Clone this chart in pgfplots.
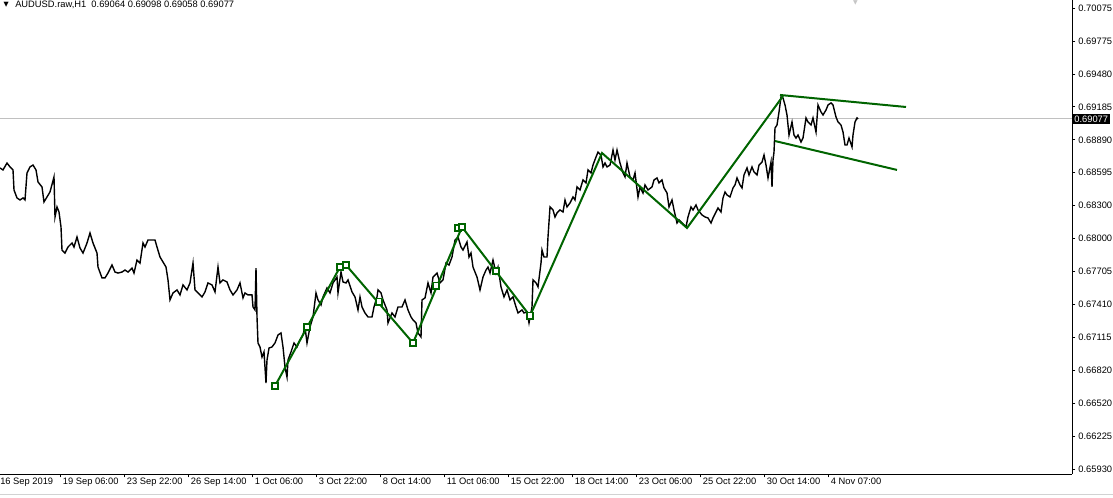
\documentclass[border=0pt]{standalone}
\usepackage{fontspec}
\setmainfont{Liberation Sans}
\newfontfamily\symfont{DejaVu Sans}
\usepackage{pgfplots}
\pgfplotsset{compat=1.18}
\definecolor{zz}{RGB}{0,100,0}
\definecolor{bid}{RGB}{192,192,192}
\newcommand\lbl{\fontsize{7}{8}\selectfont}

\begin{document}
\begin{tikzpicture}
\path[use as bounding box] (0,-17.25pt) rectangle (834.75pt,355.5pt);
\draw[gray!35, line width=0.75pt] (0,-15pt) -- (834.75pt,-15pt);
\begin{axis}[
  at={(0,0)}, anchor=south west,
  scale only axis, width=804pt, height=355.5pt,
  xmin=0, xmax=1072, ymin=0.65885, ymax=0.70147,
  axis x line*=bottom, axis y line*=right,
  axis line style={-, black, line width=0.75pt},
  clip=false,
  tick align=outside, major tick length=2.6pt,
  tick style={black, line width=0.75pt},
  xtick={60,124,188,252,316,380,444,508,572,636,700,764,828},
  xticklabels={19 Sep 06:00, 23 Sep 22:00, 26 Sep 14:00, 1 Oct 06:00, 3 Oct 22:00, 8 Oct 14:00, 11 Oct 06:00, 15 Oct 22:00, 18 Oct 14:00, 23 Oct 06:00, 25 Oct 22:00, 30 Oct 14:00, 4 Nov 07:00},
  xticklabel style={font=\lbl, anchor=north west, inner sep=0pt, xshift=2pt},
  ytick={0.70075,0.69775,0.69480,0.69185,0.68890,0.68595,0.68300,0.68000,0.67705,0.67410,0.67115,0.66820,0.66520,0.66225,0.65930},
  yticklabels={0.70075,0.69775,0.69480,0.69185,0.68890,0.68595,0.68300,0.68000,0.67705,0.67410,0.67115,0.66820,0.66520,0.66225,0.65930},
  yticklabel style={font=\lbl, anchor=west, inner sep=0pt, xshift=2pt},
  scaled y ticks=false,
]
% bid line
\addplot[bid, line width=0.75pt] coordinates {(0,0.69077) (1072,0.69077)};

% AUDUSD H1 close path, traced
\addplot[black, line width=1.05pt] coordinates {
(0,0.68637)(3,0.68619)(7,0.68681)(10,0.68646)(13,0.68619)(14,0.68439)(17,0.68367)(20,0.68349)(23,0.68367)(25,0.68349)
(27,0.68592)(30,0.68646)(33,0.68663)(36,0.68619)(38,0.68511)(42,0.68466)(44,0.68331)(47,0.68376)(50,0.68421)(54,0.68556)
(55,0.68196)(57,0.68286)(59,0.68241)(61,0.68106)(62,0.67899)(65,0.67872)(68,0.67926)(72,0.67962)(74,0.67926)(77,0.68016)
(80,0.67917)(83,0.67872)(87,0.67962)(90,0.68052)(93,0.67962)(97,0.67872)(98,0.67746)(102,0.67648)(105,0.67648)(108,0.67692)
(112,0.67764)(115,0.67701)(118,0.67692)(122,0.67701)(125,0.67719)(128,0.67701)(132,0.67737)(134,0.67692)(137,0.67809)(140,0.67782)
(143,0.67962)(145,0.67926)(148,0.67989)(152,0.67989)(155,0.67989)(157,0.67926)(160,0.67836)(163,0.67791)(166,0.67746)(168,0.67630)
(170,0.67450)(173,0.67513)(177,0.67540)(180,0.67495)(183,0.67585)(187,0.67540)(190,0.67603)(193,0.67782)(195,0.67540)(198,0.67513)
(202,0.67477)(205,0.67522)(208,0.67603)(212,0.67585)(215,0.67522)(218,0.67746)(220,0.67603)(223,0.67630)(227,0.67612)(230,0.67540)
(233,0.67495)(237,0.67540)(240,0.67603)(243,0.67468)(245,0.67513)(248,0.67495)(252,0.67495)(253,0.67387)(255,0.67360)(256,0.67737)
(257,0.67297)(258,0.67063)(260,0.67027)(262,0.66937)(264,0.66982)(266,0.66703)(267,0.66910)(269,0.67018)(272,0.67027)(275,0.67063)
(278,0.67135)(281,0.67153)(283,0.67027)(285,0.66847)(287,0.66757)(288,0.66910)(291,0.66982)(294,0.67063)(297,0.67027)(300,0.67090)
(303,0.67135)(305,0.67207)(307,0.67063)(310,0.67207)(313,0.67297)(316,0.67513)(318,0.67450)(321,0.67405)(323,0.67477)(327,0.67558)
(330,0.67513)(333,0.67603)(337,0.67656)(338,0.67513)(341,0.67701)(343,0.67612)(346,0.67603)(348,0.67630)(352,0.67522)(355,0.67477)
(358,0.67360)(360,0.67477)(362,0.67387)(365,0.67333)(368,0.67297)(372,0.67297)(374,0.67387)(377,0.67477)(378,0.67540)(381,0.67513)
(383,0.67450)(387,0.67360)(388,0.67243)(392,0.67333)(395,0.67297)(398,0.67387)(402,0.67387)(405,0.67450)(408,0.67360)(411,0.67297)
(413,0.67270)(416,0.67243)(418,0.67153)(421,0.67117)(422,0.67450)(425,0.67468)(428,0.67603)(431,0.67513)(433,0.67656)(437,0.67692)
(440,0.67603)(443,0.67630)(446,0.67782)(449,0.67764)(452,0.67836)(455,0.67989)(458,0.68016)(461,0.67926)(463,0.67899)(467,0.67971)
(469,0.67836)(471,0.67872)(473,0.67746)(477,0.67656)(480,0.67540)(483,0.67656)(486,0.67719)(488,0.67746)(490,0.67692)(493,0.67809)
(496,0.67692)(498,0.67746)(501,0.67567)(504,0.67477)(507,0.67540)(510,0.67450)(513,0.67477)(516,0.67387)(518,0.67333)(522,0.67360)
(524,0.67333)(527,0.67342)(529,0.67243)(532,0.67387)(533,0.67630)(536,0.67603)(538,0.67567)(541,0.67782)(542,0.67899)(544,0.67836)
(547,0.67836)(548,0.68016)(550,0.68286)(553,0.68259)(555,0.68196)(557,0.68232)(560,0.68259)(563,0.68241)(565,0.68349)(567,0.68286)
(570,0.68322)(573,0.68376)(575,0.68349)(577,0.68466)(580,0.68439)(583,0.68529)(586,0.68502)(588,0.68619)(591,0.68592)(593,0.68663)
(596,0.68735)(598,0.68780)(601,0.68753)(603,0.68646)(605,0.68681)(607,0.68646)(610,0.68663)(613,0.68798)(615,0.68708)(617,0.68798)
(620,0.68681)(623,0.68592)(625,0.68556)(627,0.68681)(630,0.68556)(633,0.68529)(635,0.68592)(638,0.68376)(640,0.68466)(643,0.68412)
(645,0.68484)(648,0.68439)(652,0.68466)(654,0.68529)(657,0.68547)(659,0.68502)(662,0.68529)(664,0.68457)(667,0.68412)(669,0.68286)
(672,0.68349)(674,0.68259)(677,0.68142)(679,0.68169)(682,0.68142)(684,0.68124)(686,0.68106)(688,0.68196)(691,0.68286)(693,0.68259)
(696,0.68304)(698,0.68259)(702,0.68214)(705,0.68196)(708,0.68187)(711,0.68142)(713,0.68187)(716,0.68241)(718,0.68277)(721,0.68241)
(723,0.68367)(725,0.68421)(727,0.68394)(730,0.68376)(733,0.68457)(735,0.68484)(737,0.68547)(740,0.68484)(742,0.68457)(744,0.68574)
(747,0.68637)(749,0.68574)(752,0.68646)(754,0.68601)(757,0.68574)(759,0.68663)(762,0.68690)(764,0.68753)(766,0.68663)(768,0.68547)
(771,0.68690)(772,0.68466)(773,0.68708)(774,0.68780)(775,0.68996)(777,0.69023)(779,0.69140)(781,0.69275)(783,0.69266)(785,0.69203)
(787,0.69113)(789,0.68933)(792,0.69050)(794,0.68933)(796,0.68906)(798,0.68933)(801,0.68870)(803,0.68906)(806,0.69086)(808,0.69050)
(811,0.69023)(813,0.69086)(816,0.68960)(818,0.69203)(821,0.69140)(823,0.69113)(826,0.69158)(828,0.69203)(831,0.69221)(833,0.69203)
(836,0.69095)(838,0.69050)(841,0.69023)(843,0.68960)(845,0.68843)(847,0.68843)(849,0.68906)(852,0.68825)(853,0.68933)(855,0.69050)
(857,0.69086)(858,0.69077)
};

% zigzag
\addplot[zz, line width=1.5pt] coordinates {
(275,0.66676)(340,0.67746)(346,0.67764)(413,0.67063)(462,0.68106)(530,0.67306)(602,0.68771)(687,0.68097)(783,0.69284)
};
\addplot[only marks, mark=square*, mark size=2.4pt, mark options={draw=zz, fill=white, line width=1.1pt}] coordinates {
(275,0.66676)(307,0.67207)(340,0.67746)(346,0.67764)(379,0.67432)(413,0.67063)(436,0.67576)(458,0.68097)(462,0.68106)(496,0.67710)(530,0.67306)
};

% channel
\addplot[zz, line width=1.5pt] coordinates {(780,0.69293) (906,0.69185)};
\addplot[zz, line width=1.5pt] coordinates {(775,0.68879) (897,0.68619)};

% current price tag
\node[fill=black, text=white, anchor=west, inner sep=1.2pt, font=\lbl] at (axis cs:1072.5,0.69077) {0.69077};
\node[font=\lbl, anchor=north west, inner sep=0pt, yshift=-2.6pt] at (axis cs:0,0.65885) {16 Sep 2019};
\end{axis}
\node[anchor=west, inner sep=0pt, font=\lbl] at (11.25pt,351.75pt) {AUDUSD.raw,H1\ \ 0.69064 0.69098 0.69058 0.69077};
\node[anchor=center, inner sep=0pt] at (4.7pt,351.9pt) {\symfont\fontsize{5}{6}\selectfont ▼};
\node[anchor=north, inner sep=0pt, text=gray!45] at (641.5pt,355pt) {\symfont\fontsize{4.5}{5}\selectfont ▼};
\end{tikzpicture}
\end{document}
